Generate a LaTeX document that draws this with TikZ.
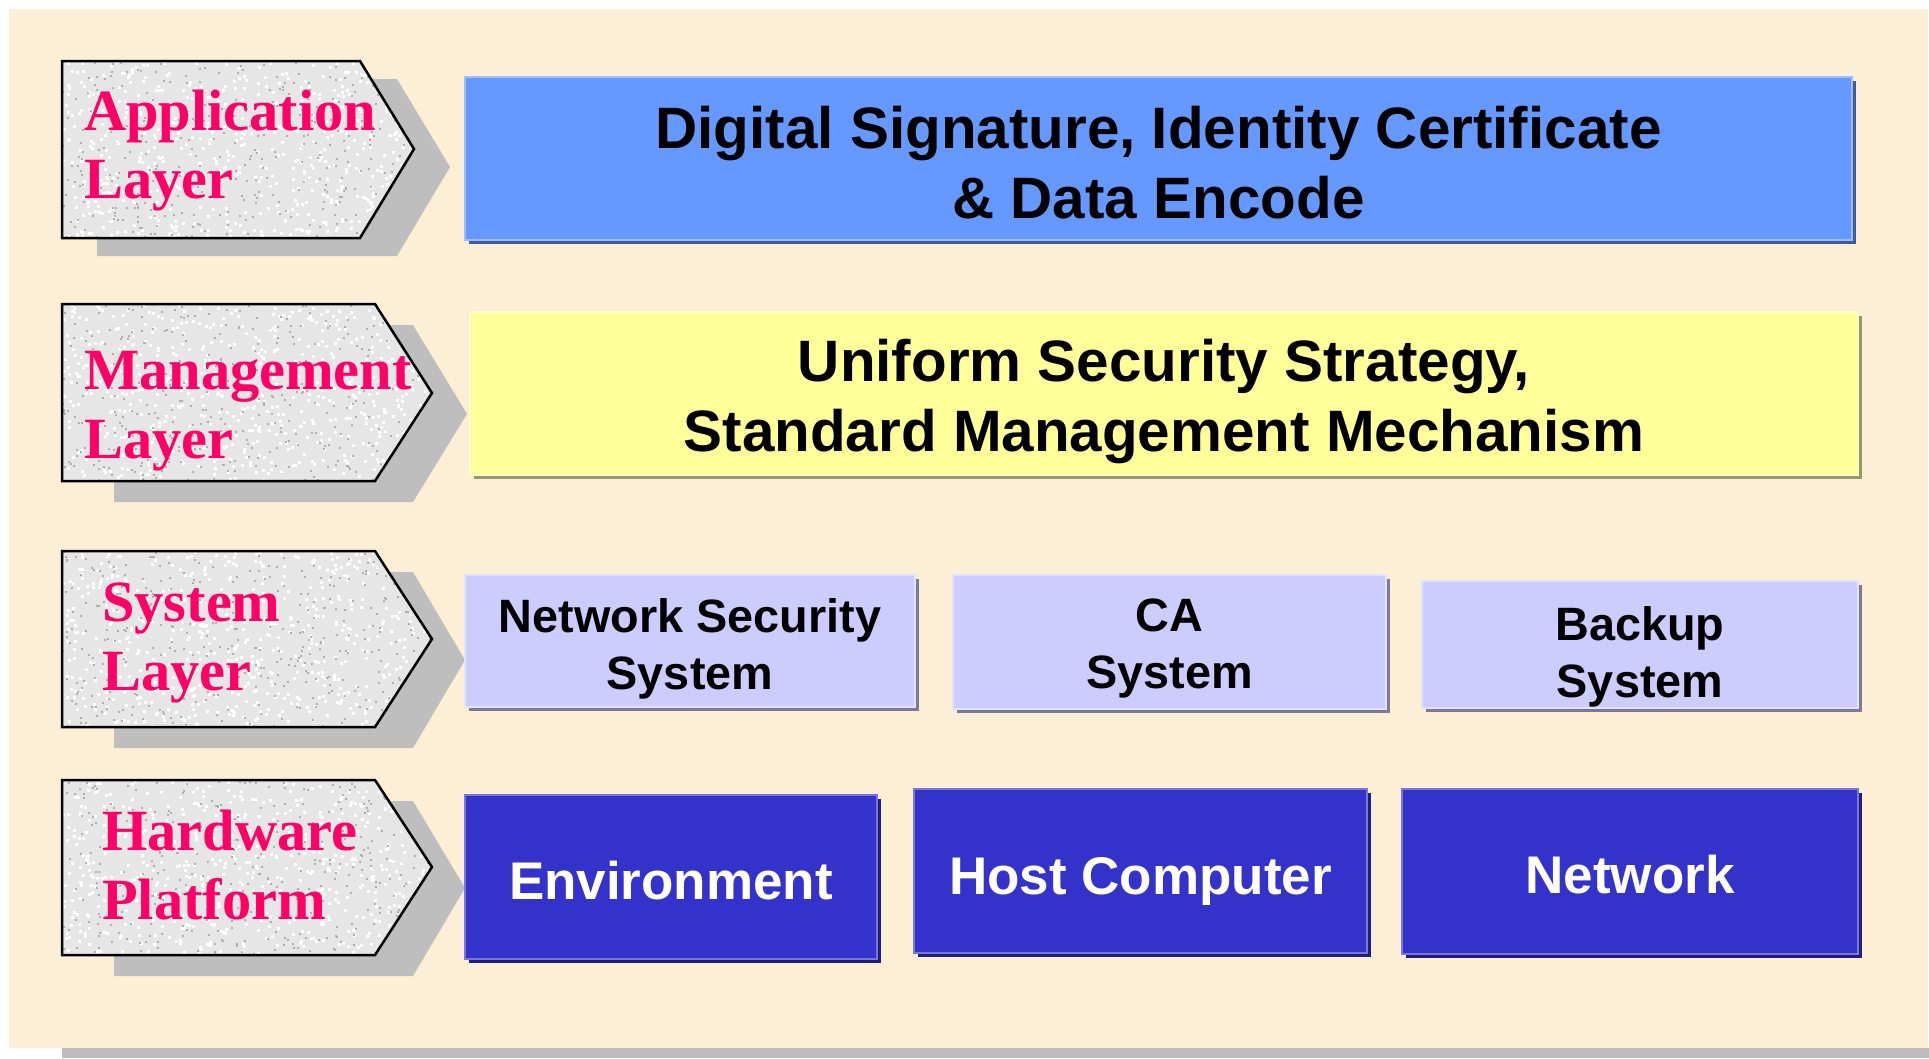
\documentclass[tikz,border=0pt]{standalone}
\usepackage{fontspec}
\setmainfont{Liberation Serif}
\setsansfont{Liberation Sans}
\usetikzlibrary{shadows,calc}
\definecolor{bgc}{HTML}{FCEFD6}
\definecolor{sgray}{HTML}{BEBEBE}
\definecolor{pinkt}{HTML}{FF0066}
\definecolor{granite}{HTML}{E6E6E6}
\definecolor{speck}{HTML}{AFAFAF}
\definecolor{bluef}{HTML}{6699FF}
\definecolor{bluee}{HTML}{9DBDFF}
\definecolor{blues}{HTML}{3D5C99}
\definecolor{yelf}{HTML}{FFFF99}
\definecolor{yele}{HTML}{FFFFCC}
\definecolor{yels}{HTML}{999966}
\definecolor{lavf}{HTML}{CCCCFF}
\definecolor{lave}{HTML}{E2E2FF}
\definecolor{lavs}{HTML}{7A7A99}
\definecolor{dbf}{HTML}{3333CC}
\definecolor{dbe}{HTML}{7777DD}
\definecolor{dbs}{HTML}{1F1F7A}
\tikzset{
  layertext/.style={font=\bfseries\fontsize{58.4}{68}\selectfont, text=pinkt, anchor=base west, inner sep=0},
  arrowshape/.style={draw=black, line width=2.5pt, line join=miter},
  arrowshadow/.style={fill=sgray},
  boxbase/.style={rectangle, inner sep=0, line width=2pt},
  bluebox/.style={boxbase, fill=bluef, draw=bluee, drop shadow={shadow xshift=4pt, shadow yshift=-4pt, fill=blues, opacity=1}},
  yelbox/.style={boxbase, fill=yelf, draw=yele, drop shadow={shadow xshift=4pt, shadow yshift=-4pt, fill=yels, opacity=1}},
  lavbox/.style={boxbase, fill=lavf, draw=lave, drop shadow={shadow xshift=4pt, shadow yshift=-4pt, fill=lavs, opacity=1}},
  dbbox/.style={boxbase, fill=dbf, draw=dbe, drop shadow={shadow xshift=4pt, shadow yshift=-4pt, fill=dbs, opacity=1}},
  bigtext/.style={inner sep=0, align=center, font=\sffamily\bfseries\fontsize{58.4}{70}\selectfont},
  systext/.style={inner sep=0, align=center, font=\sffamily\bfseries\fontsize{46.8}{57}\selectfont},
  hwtext/.style={inner sep=0, align=center, text=white, font=\sffamily\bfseries\fontsize{53}{62}\selectfont},
}
\newcommand\granitearrow[9]{%
  % #1 top, #2 bottom, #3 corner x, #4 tip x, #5 tip y, #6 shadow left, #7 shadow corner, #8 shadow tip, #9 shadow dy
  \fill[arrowshadow] (#6,#1+#9) -- (#7,#1+#9) -- (#8,#5+#9) -- (#7,#2+#9) -- (#6,#2+#9) -- cycle;
  \fill[granite] (62,#1) -- (#3,#1) -- (#4,#5) -- (#3,#2) -- (62,#2) -- cycle;
  \begin{scope}
    \clip (62,#1) -- (#3,#1) -- (#4,#5) -- (#3,#2) -- (62,#2) -- cycle;
    \foreach \k in {1,...,650}{
      \fill[white] ({62+rnd*380},{#1+rnd*(#2-#1)}) rectangle ++(3,3);
    }
    \foreach \k in {1,...,380}{
      \fill[speck] ({62+rnd*380},{#1+rnd*(#2-#1)}) rectangle ++(2,2);
    }
  \end{scope}
  \draw[arrowshape] (62,#1) -- (#3,#1) -- (#4,#5) -- (#3,#2) -- (62,#2) -- cycle;
}
\begin{document}
\begin{tikzpicture}[x=1pt,y=-1pt]
\pgfmathsetseed{42}
\useasboundingbox (0,0) rectangle (1929,1058);
\fill[white] (0,0) rectangle (1929,1058);
\fill[sgray] (62,1048) rectangle (1929,1058);
\fill[bgc] (9,9) rectangle (1928,1048);

% layer arrows
\granitearrow{61}{238}{360}{414}{149}{97}{397}{450}{18}
\granitearrow{304}{481}{375}{432}{393}{114}{413}{467}{21}
\granitearrow{551}{727}{375}{432}{639}{114}{413}{465}{21}
\granitearrow{780}{955}{375}{432}{867}{114}{413}{465}{21}

\node[layertext] (appA) at (84,130) {Application};
\node[layertext] (appB) at (84,198) {Layer};
\node[layertext] (mgtA) at (84,389) {Management};
\node[layertext] (mgtB) at (84,458) {Layer};
\node[layertext] (sysA) at (102,621) {System};
\node[layertext] (sysB) at (102,690) {Layer};
\node[layertext] (hwA) at (102,850) {Hardware};
\node[layertext] (hwB) at (102,919) {Platform};

% application layer box
\node[bluebox, minimum width=1387pt, minimum height=163pt] (app) at (1158.5,158.5) {};
\node[bigtext] (appT) at ($(app.center)+(0,4)$) {Digital Signature, Identity Certificate\\\& Data Encode};
% management layer box
\node[yelbox, minimum width=1388pt, minimum height=163pt] (mgt) at (1164,393.5) {};
\node[bigtext] (mgtT) at ($(mgt.center)+(0,8)$) {Uniform Security Strategy,\\Standard Management Mechanism};
% system layer boxes
\node[lavbox, minimum width=450pt, minimum height=132pt] (nss) at (690,641) {};
\node[systext] (nssT) at ($(nss.center)+(0,8)$) {Network Security\\System};
\node[lavbox, minimum width=433pt, minimum height=134pt] (cas) at (1169.5,642) {};
\node[systext] (casT) at ($(cas.center)+(0,7)$) {CA\\System};
\node[lavbox, minimum width=436pt, minimum height=127pt] (bks) at (1640,644.5) {};
\node[systext] (bksT) at ($(bks.center)+(0,12)$) {Backup\\System};
% hardware boxes
\node[dbbox, minimum width=412pt, minimum height=164pt] (env) at (671,877) {};
\node[hwtext] (envT) at ($(env.center)+(0,4)$) {Environment};
\node[dbbox, minimum width=453pt, minimum height=164pt] (host) at (1140.5,871) {};
\node[hwtext] (hostT) at ($(host.center)+(0,10)$) {Host Computer};
\node[dbbox, minimum width=456pt, minimum height=165pt] (net) at (1630,871.5) {};
\node[hwtext] (netT) at ($(net.center)+(0,3)$) {Network};
\end{tikzpicture}
\end{document}
